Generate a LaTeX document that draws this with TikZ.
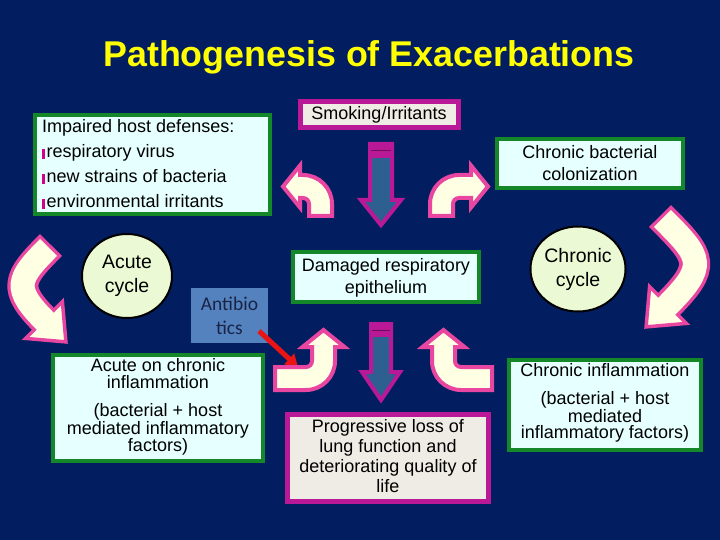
\documentclass[tikz,border=0pt]{standalone}
\usepackage{fontspec}
\setmainfont{Liberation Sans}
\newfontfamily\calib{Carlito}
\usetikzlibrary{arrows.meta,shapes.geometric}
\definecolor{bg}{RGB}{3,30,96}
\definecolor{titlec}{RGB}{255,255,0}
\definecolor{cyanf}{RGB}{230,255,255}
\definecolor{grn}{RGB}{20,135,40}
\definecolor{grayf}{RGB}{238,236,228}
\definecolor{magb}{RGB}{185,25,150}
\definecolor{cream}{RGB}{255,255,228}
\definecolor{pinkc}{RGB}{232,70,160}
\definecolor{steel}{RGB}{45,95,145}
\definecolor{circf}{RGB}{235,250,212}
\definecolor{abfill}{RGB}{84,130,190}
\definecolor{abtext}{RGB}{25,35,70}
\definecolor{redc}{RGB}{235,20,20}
\definecolor{bulc}{RGB}{210,0,140}
\newcommand\mybul{\textcolor{bulc}{\rule[-1pt]{2.5pt}{10pt}}\hspace{2pt}}
\tikzset{
  cbox/.style={draw=grn, line width=4.5pt, fill=cyanf, inner sep=0pt},
  gbox/.style={draw=magb, line width=5pt, fill=grayf, inner sep=0pt},
  txt/.style={inner sep=0pt, align=center, text=black, font=\fontsize{18}{22}\selectfont},
  cyc/.style={ellipse, draw=black, line width=2pt, fill=circf, inner sep=0pt, align=center, font=\fontsize{19.5}{24}\selectfont},
  bentarr/.style={fill=cream, draw=pinkc, line width=4pt, line join=miter},
  dnarr/.style={fill=steel, draw=magb, line width=4pt, line join=miter},
  bandpink/.style={draw=pinkc, line width=31pt},
  bandcream/.style={draw=cream, line width=24pt, shorten <=3.5pt},
  headst/.style={fill=cream, draw=pinkc, line width=3.5pt, line join=miter}
}
% bent arrow path in local frame: #1 = shaft length D, #2 = head offset E
\newcommand\bentpath[2]{(0,#1) -- (0,6) .. controls (0,2.69) and (-2.69,0) .. (-6,0) -- (-#2,0) -- (-#2,9.5) -- ({-#2-17},-11.5) -- (-#2,-32.5) -- (-#2,-23) -- (-6,-23) .. controls (10.02,-23) and (23,-10.02) .. (23,6) -- (23,#1) -- cycle}
\begin{document}
\begin{tikzpicture}[x=1pt,y=-1pt]
\fill[bg] (0,0) rectangle (720,540);
\useasboundingbox (0,0) rectangle (720,540);

% title
\node[inner sep=0pt, text=titlec, font=\bfseries\fontsize{35.8}{40}\selectfont] (title) at (369,57) {Pathogenesis of Exacerbations};

% boxes
\node[cbox, minimum width=235pt, minimum height=99pt] (host) at (152.5,164.5) {};
\node[txt, anchor=west, align=left, font=\fontsize{18}{25}\selectfont] (hosttxt) at (42,164) {Impaired host defenses:\\\mybul respiratory virus\\\mybul new strains of bacteria\\\mybul environmental irritants};

\node[gbox, minimum width=158pt, minimum height=26pt] (smoke) at (379,115) {};
\node[txt] (smoketxt) at (379,115) {Smoking/Irritants};

\node[cbox, minimum width=186pt, minimum height=49pt] (colon) at (590,163.5) {};
\node[txt] (colontxt) at (590,163.5) {Chronic bacterial\\colonization};

\node[cbox, minimum width=186pt, minimum height=50pt] (epi) at (386,277) {};
\node[txt] (epitxt) at (386,278) {Damaged respiratory\\epithelium};

\node[gbox, minimum width=201pt, minimum height=87pt] (loss) at (387.5,457.5) {};
\node[txt, font=\fontsize{18}{20}\selectfont] (losstxt) at (388,456) {Progressive loss of\\lung function and\\deteriorating quality of\\life};

\node[cbox, minimum width=210pt, minimum height=106pt] (acb) at (158,408) {};
\node[txt, font=\fontsize{18}{17.5}\selectfont] (acbtxt) at (158,407) {Acute on chronic\\inflammation\\[10.5pt](bacterial + host\\mediated inflammatory\\factors)};

\node[cbox, minimum width=192pt, minimum height=90pt] (cinf) at (605,405) {};
\node[txt, font=\fontsize{18}{16.5}\selectfont] (cinftxt) at (605,403) {Chronic inflammation\\[11.5pt](bacterial + host\\mediated\\inflammatory factors)};

% cycles
\node[cyc, minimum width=90pt, minimum height=84pt] (acute) at (127,276) {Acute\\cycle};
\node[cyc, minimum width=90pt, minimum height=85pt] (chronic) at (578,269) {Chronic\\cycle};

% antibiotics
\node[fill=abfill, minimum width=77pt, minimum height=55pt, inner sep=0pt, align=center, text=abtext, font=\calib\fontsize{19.5}{24}\selectfont] (anti) at (229.5,315.5) {Antibio\\tics};
\coordinate (redS) at (259,331);
\coordinate (redE) at (298,367);
\draw[redc, line width=5pt, -{Triangle[length=12pt,width=14pt]}] (redS) -- (redE);

% down arrows
\filldraw[dnarr] (370,144) -- (392,144) -- (392,200) -- (401,200) -- (381,225) -- (361,200) -- (370,200) -- cycle;
\fill[magb] (368,142) rectangle (394,158);
\draw[black!40!magb, line width=1pt] (371,151) -- (391,151);
\filldraw[dnarr] (371,324) -- (391,324) -- (391,372) -- (400,372) -- (381,400) -- (362,372) -- (371,372) -- cycle;
\fill[magb] (369,322) rectangle (393,337);
\draw[black!40!magb, line width=1pt] (372,330) -- (390,330);

% bent arrows
\begin{scope}[shift={(309,198)}]
  \filldraw[bentarr] \bentpath{18}{9};
\end{scope}
\begin{scope}[shift={(453,198)}, xscale=-1]
  \filldraw[bentarr] \bentpath{18}{18};
\end{scope}
\begin{scope}[shift={(312,367)}, rotate=-90]
  \filldraw[bentarr] \bentpath{37}{20};
\end{scope}
\begin{scope}[shift={(455,367)}, xscale=-1, rotate=-90]
  \filldraw[bentarr] \bentpath{37}{20};
\end{scope}

% big curved arrows
\draw[bandpink] (660,216) .. controls (702,258) and (708,265) .. (666,307);
\filldraw[headst] (646.1,326.9) -- (686.4,323.4) -- (649.6,286.6) -- cycle;
\draw[bandcream] (660,216) .. controls (702,258) and (708,265) .. (666,307);

\draw[bandpink] (51,245) .. controls (17,279) and (12,288) .. (46,322);
\filldraw[headst] (65.9,341.9) -- (62.4,301.6) -- (25.6,338.4) -- cycle;
\draw[bandcream] (51,245) .. controls (17,279) and (12,288) .. (46,322);
\end{tikzpicture}
\end{document}
